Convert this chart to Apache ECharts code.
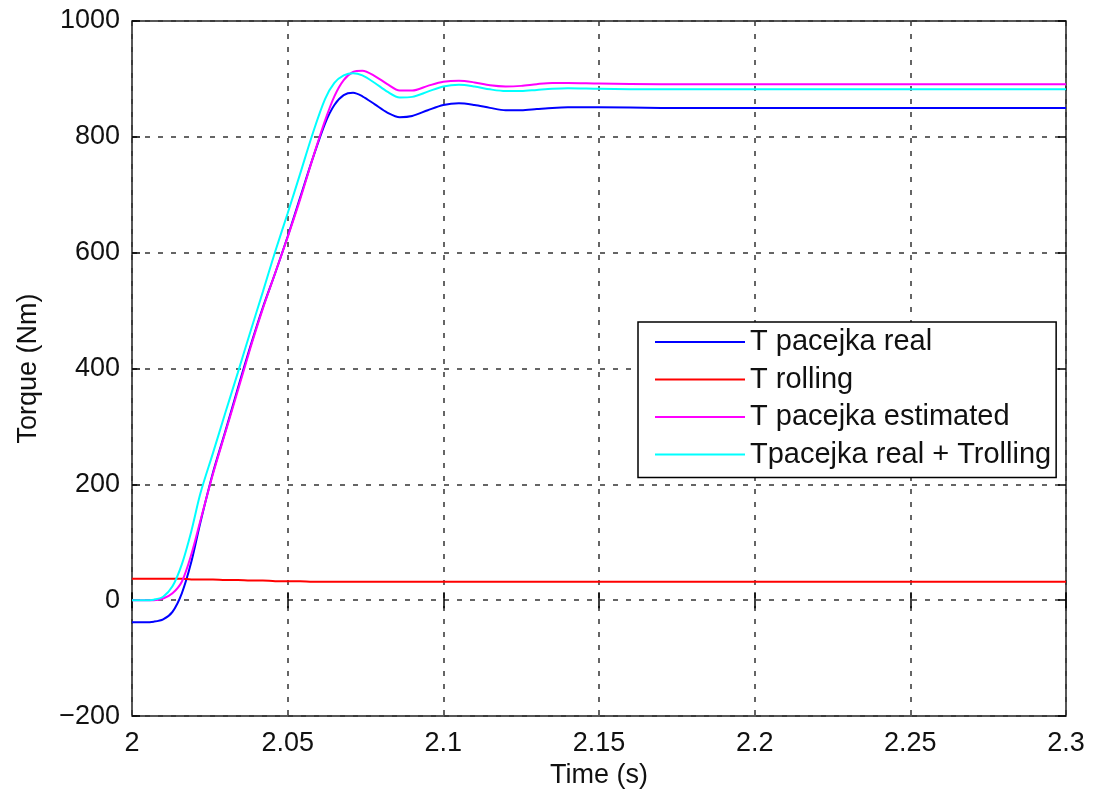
<!DOCTYPE html>
<html>
<head>
<meta charset="utf-8">
<script src="https://cdn.jsdelivr.net/npm/echarts@6/dist/echarts.min.js"></script>
<style>
  html, body { margin: 0; padding: 0; background: #fff; }
  #chart { width: 1104px; height: 794px; }
</style>
</head>
<body>
<div id="chart"></div>
<script>
// time (s)
const time = [2.000, 2.004, 2.007, 2.010, 2.013, 2.016, 2.019, 2.022, 2.026, 2.030,
  2.034, 2.038, 2.042, 2.046, 2.050, 2.054, 2.058, 2.062, 2.065, 2.068,
  2.071, 2.074, 2.078, 2.082, 2.086, 2.090, 2.095, 2.100, 2.105, 2.110,
  2.115, 2.120, 2.125, 2.130, 2.135, 2.140, 2.150, 2.170, 2.200, 2.250, 2.300]

// torque (Nm)
const pacejkaReal = [-38, -38, -37, -33, -20, 12, 65, 135, 220, 292,
  366, 438, 505, 565, 628, 695, 762, 823, 855, 872,
  876, 870, 856, 842, 834, 836, 846, 855, 858, 855,
  850, 846, 846, 848, 850, 851, 851, 850, 850, 850, 850]
const rolling = [37, 37, 37, 37, 37, 37, 36, 36, 36, 35,
  35, 34, 34, 33, 33, 33, 32, 32, 32, 32,
  32, 32, 32, 32, 32, 32, 32, 32, 32, 32,
  32, 32, 32, 32, 32, 32, 32, 32, 32, 32, 32]
const pacejkaEst = [0, 0, 0, 3, 12, 32, 78, 138, 218, 290,
  362, 435, 503, 565, 627, 692, 762, 828, 870, 898,
  912, 914, 905, 891, 880, 880, 888, 895, 897, 894,
  889, 887, 888, 891, 893, 893, 892, 891, 891, 891, 891]
const realPlusRolling = [0, 0, 1, 6, 24, 62, 118, 185, 254, 324,
  393, 463, 532, 602, 668, 736, 805, 865, 893, 906,
  910, 906, 893, 878, 868, 869, 878, 887, 890, 887,
  882, 879, 879, 881, 883, 884, 883, 882, 882, 882, 882]

const xTicks = { min: 2, max: 2.3, interval: 0.05 }
const yTicks = { min: -200, max: 1000, interval: 200 }

function pairs(values) {
  return time.map((t, i) => [t, values[i]])
}

const chart = echarts.init(document.getElementById('chart'))

const font = 'Liberation Sans, Arial, sans-serif'
const tick = { show: true, inside: true, length: 8, lineStyle: { color: '#000', width: 1.5 } }
const grid = { show: true, lineStyle: { color: '#333', width: 1.5, type: [5, 8] } }

function line(name, values, color) {
  return {
    name: name,
    type: 'line',
    data: pairs(values),
    showSymbol: false,
    smooth: 0.3,
    lineStyle: { color: color, width: 2 },
    itemStyle: { color: color },
    animation: false
  }
}

const option = {
  backgroundColor: '#fff',
  animation: false,
  grid: {
    left: 132, right: 38, top: 21, bottom: 75,
    show: true, borderColor: '#222', borderWidth: 1.5
  },
  legend: {
    orient: 'vertical',
    left: 638,
    top: 322,
    icon: 'rect',
    itemWidth: 90,
    itemHeight: 2,
    itemGap: 7.5,
    padding: [5, 5, 8, 17],
    borderColor: '#000',
    borderWidth: 1.5,
    backgroundColor: '#fff',
    textStyle: { fontFamily: font, fontSize: 29, color: '#111', lineHeight: 30 }
  },
  xAxis: [{
    type: 'value',
    min: xTicks.min, max: xTicks.max, interval: xTicks.interval,
    name: 'Time (s)',
    nameLocation: 'middle',
    nameGap: 44,
    nameTextStyle: { fontFamily: font, fontSize: 27, color: '#111' },
    axisLine: { show: false },
    axisTick: tick,
    axisLabel: {
      margin: 14, fontFamily: font, fontSize: 27, color: '#111',
      formatter: v => String(+v.toFixed(2))
    },
    splitLine: grid
  }, {
    type: 'value', position: 'top',
    min: xTicks.min, max: xTicks.max, interval: xTicks.interval,
    axisLine: { show: false }, axisTick: tick,
    axisLabel: { show: false }, splitLine: { show: false }
  }],
  yAxis: [{
    type: 'value',
    min: yTicks.min, max: yTicks.max, interval: yTicks.interval,
    name: 'Torque (Nm)',
    nameLocation: 'middle',
    nameGap: 90,
    nameTextStyle: { fontFamily: font, fontSize: 27, color: '#111' },
    axisLine: { show: false },
    axisTick: tick,
    axisLabel: {
      margin: 12, fontFamily: font, fontSize: 27, color: '#111',
      formatter: v => String(v).replace('-', '\u2212')
    },
    splitLine: grid
  }, {
    type: 'value', position: 'right',
    min: yTicks.min, max: yTicks.max, interval: yTicks.interval,
    axisLine: { show: false }, axisTick: tick,
    axisLabel: { show: false }, splitLine: { show: false }
  }],
  series: [
    line('T pacejka real', pacejkaReal, '#0000ff'),
    line('T rolling', rolling, '#ff0000'),
    line('T pacejka estimated', pacejkaEst, '#ff00ff'),
    line('Tpacejka real + Trolling', realPlusRolling, '#00ffff')
  ]
}

chart.setOption(option)
</script>
</body>
</html>
